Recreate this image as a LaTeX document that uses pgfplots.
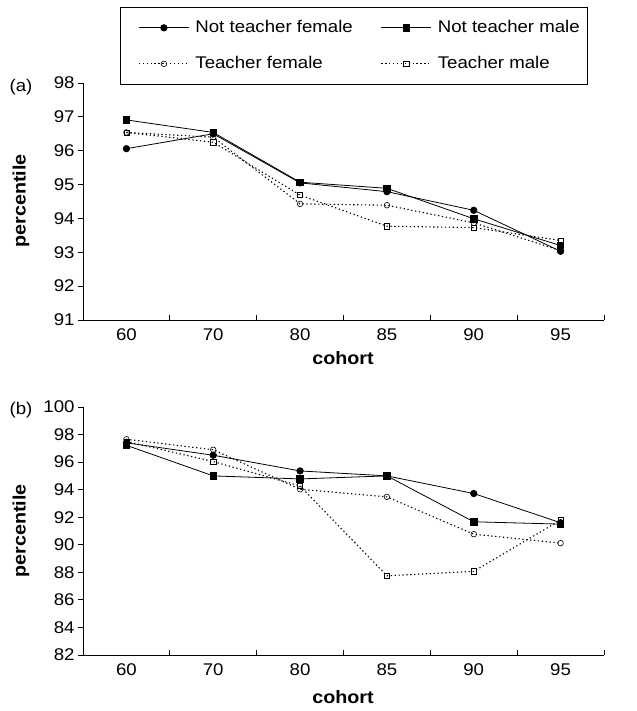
\documentclass[border=0pt]{standalone}
\usepackage{pgfplots}
\pgfplotsset{compat=1.18}
\usepackage{fontspec}
\setmainfont{Liberation Sans}[FakeStretch=1.1]

\pgfplotstableread{
x ntf ntm tf tm
0 96.06 96.91 96.54 96.54
1 96.50 96.54 96.40 96.25
2 95.05 95.07 94.43 94.69
3 94.79 94.89 94.39 93.77
4 94.24 93.99 93.87 93.73
5 93.03 93.20 93.05 93.35
}\dataA

\pgfplotstableread{
x ntf ntm tf tm
0 97.40 97.22 97.66 97.50
1 96.50 95.00 96.90 96.04
2 95.36 94.78 94.03 94.27
3 95.00 95.00 93.48 87.75
4 93.72 91.67 90.77 88.07
5 91.60 91.50 90.12 91.80
}\dataB

\pgfplotsset{
  panel/.style={
    scale only axis, width=521bp,
    axis x line=bottom, axis y line=left,
    axis line style={-, line width=0.9pt},
    xmin=-0.5, xmax=5.5,
    xtick={0,...,5}, xticklabels={60,70,80,85,90,95},
    major x tick style={draw=none},
    minor xtick={0.5,1.5,...,4.5,5.5},
    minor tick length=5bp,
    minor x tick style={line width=0.9pt, black, yshift=5bp},
    tick align=outside,
    major tick length=5bp,
    y tick style={line width=0.9pt, black},
    tick label style={font=\fontsize{17}{20}\selectfont},
    /pgf/number format/assume math mode=true,
    every axis plot/.append style={black},
  },
  ntf/.style={solid, line width=0.8pt, mark=*, mark size=3.2bp, mark options={solid, fill=black}},
  ntm/.style={solid, line width=0.8pt, mark=square*, mark size=3.2bp, mark options={solid, fill=black}},
  tf/.style={line width=1.1pt, dash pattern=on 1.3bp off 2.6bp, mark=o, mark size=2.8bp, mark options={solid, line width=0.6pt, fill=white}},
  tm/.style={line width=1.1pt, dash pattern=on 1.3bp off 2.6bp, mark=square, mark size=2.6bp, mark options={solid, line width=0.6pt, fill=white}},
}

\begin{document}
\begin{tikzpicture}
\useasboundingbox (0,0) rectangle (637bp,-711bp);

\begin{axis}[panel, height=237bp, at={(83bp,-320bp)}, anchor=south west,
  ymin=91, ymax=98, ytick={91,...,98},
  legend columns=2,
  legend cell align=left,
  legend style={at={(rel axis cs:0.071,1.3207)}, anchor=north west,
    font=\fontsize{17}{20}\selectfont, draw=black, line width=0.7pt,
    inner xsep=6bp, inner ysep=10bp, row sep=15bp,
    nodes={text height=13bp, text depth=4bp},
    /tikz/every odd column/.style={column sep=0bp},
    /tikz/every even column/.style={column sep=14bp}},
  legend image code/.code={%
    \path (0bp,0bp) (66bp,0bp);
    \draw[mark repeat=2, mark phase=2] plot coordinates {(12bp,0bp) (37bp,0bp) (62bp,0bp)};},
]
\addplot[ntf] table[x=x, y=ntf] {\dataA};
\addlegendentry{Not teacher female}
\addplot[ntm] table[x=x, y=ntm] {\dataA};
\addlegendentry{Not teacher male}
\addplot[tf] table[x=x, y=tf] {\dataA};
\addlegendentry{Teacher female}
\addplot[tm] table[x=x, y=tm] {\dataA};
\addlegendentry{Teacher male}
\end{axis}

\begin{axis}[panel, height=248bp, at={(83bp,-655bp)}, anchor=south west,
  ymin=82, ymax=100, ytick={82,84,...,100},
]
\addplot[ntf] table[x=x, y=ntf] {\dataB};
\addplot[ntm] table[x=x, y=ntm] {\dataB};
\addplot[tf] table[x=x, y=tf] {\dataB};
\addplot[tm] table[x=x, y=tm] {\dataB};
\end{axis}

\node[font=\fontsize{17}{20}\selectfont] at (21bp,-87bp) {(a)};
\node[font=\fontsize{17}{20}\selectfont] at (21bp,-410bp) {(b)};
\node[font=\fontsize{18}{20}\selectfont\bfseries] at (343bp,-358bp) {cohort};
\node[font=\fontsize{18}{20}\selectfont\bfseries] at (343bp,-697bp) {cohort};
\node[font=\fontsize{18}{20}\selectfont\bfseries, rotate=90] at (21bp,-201bp) {percentile};
\node[font=\fontsize{18}{20}\selectfont\bfseries, rotate=90] at (21bp,-531bp) {percentile};
\end{tikzpicture}
\end{document}
